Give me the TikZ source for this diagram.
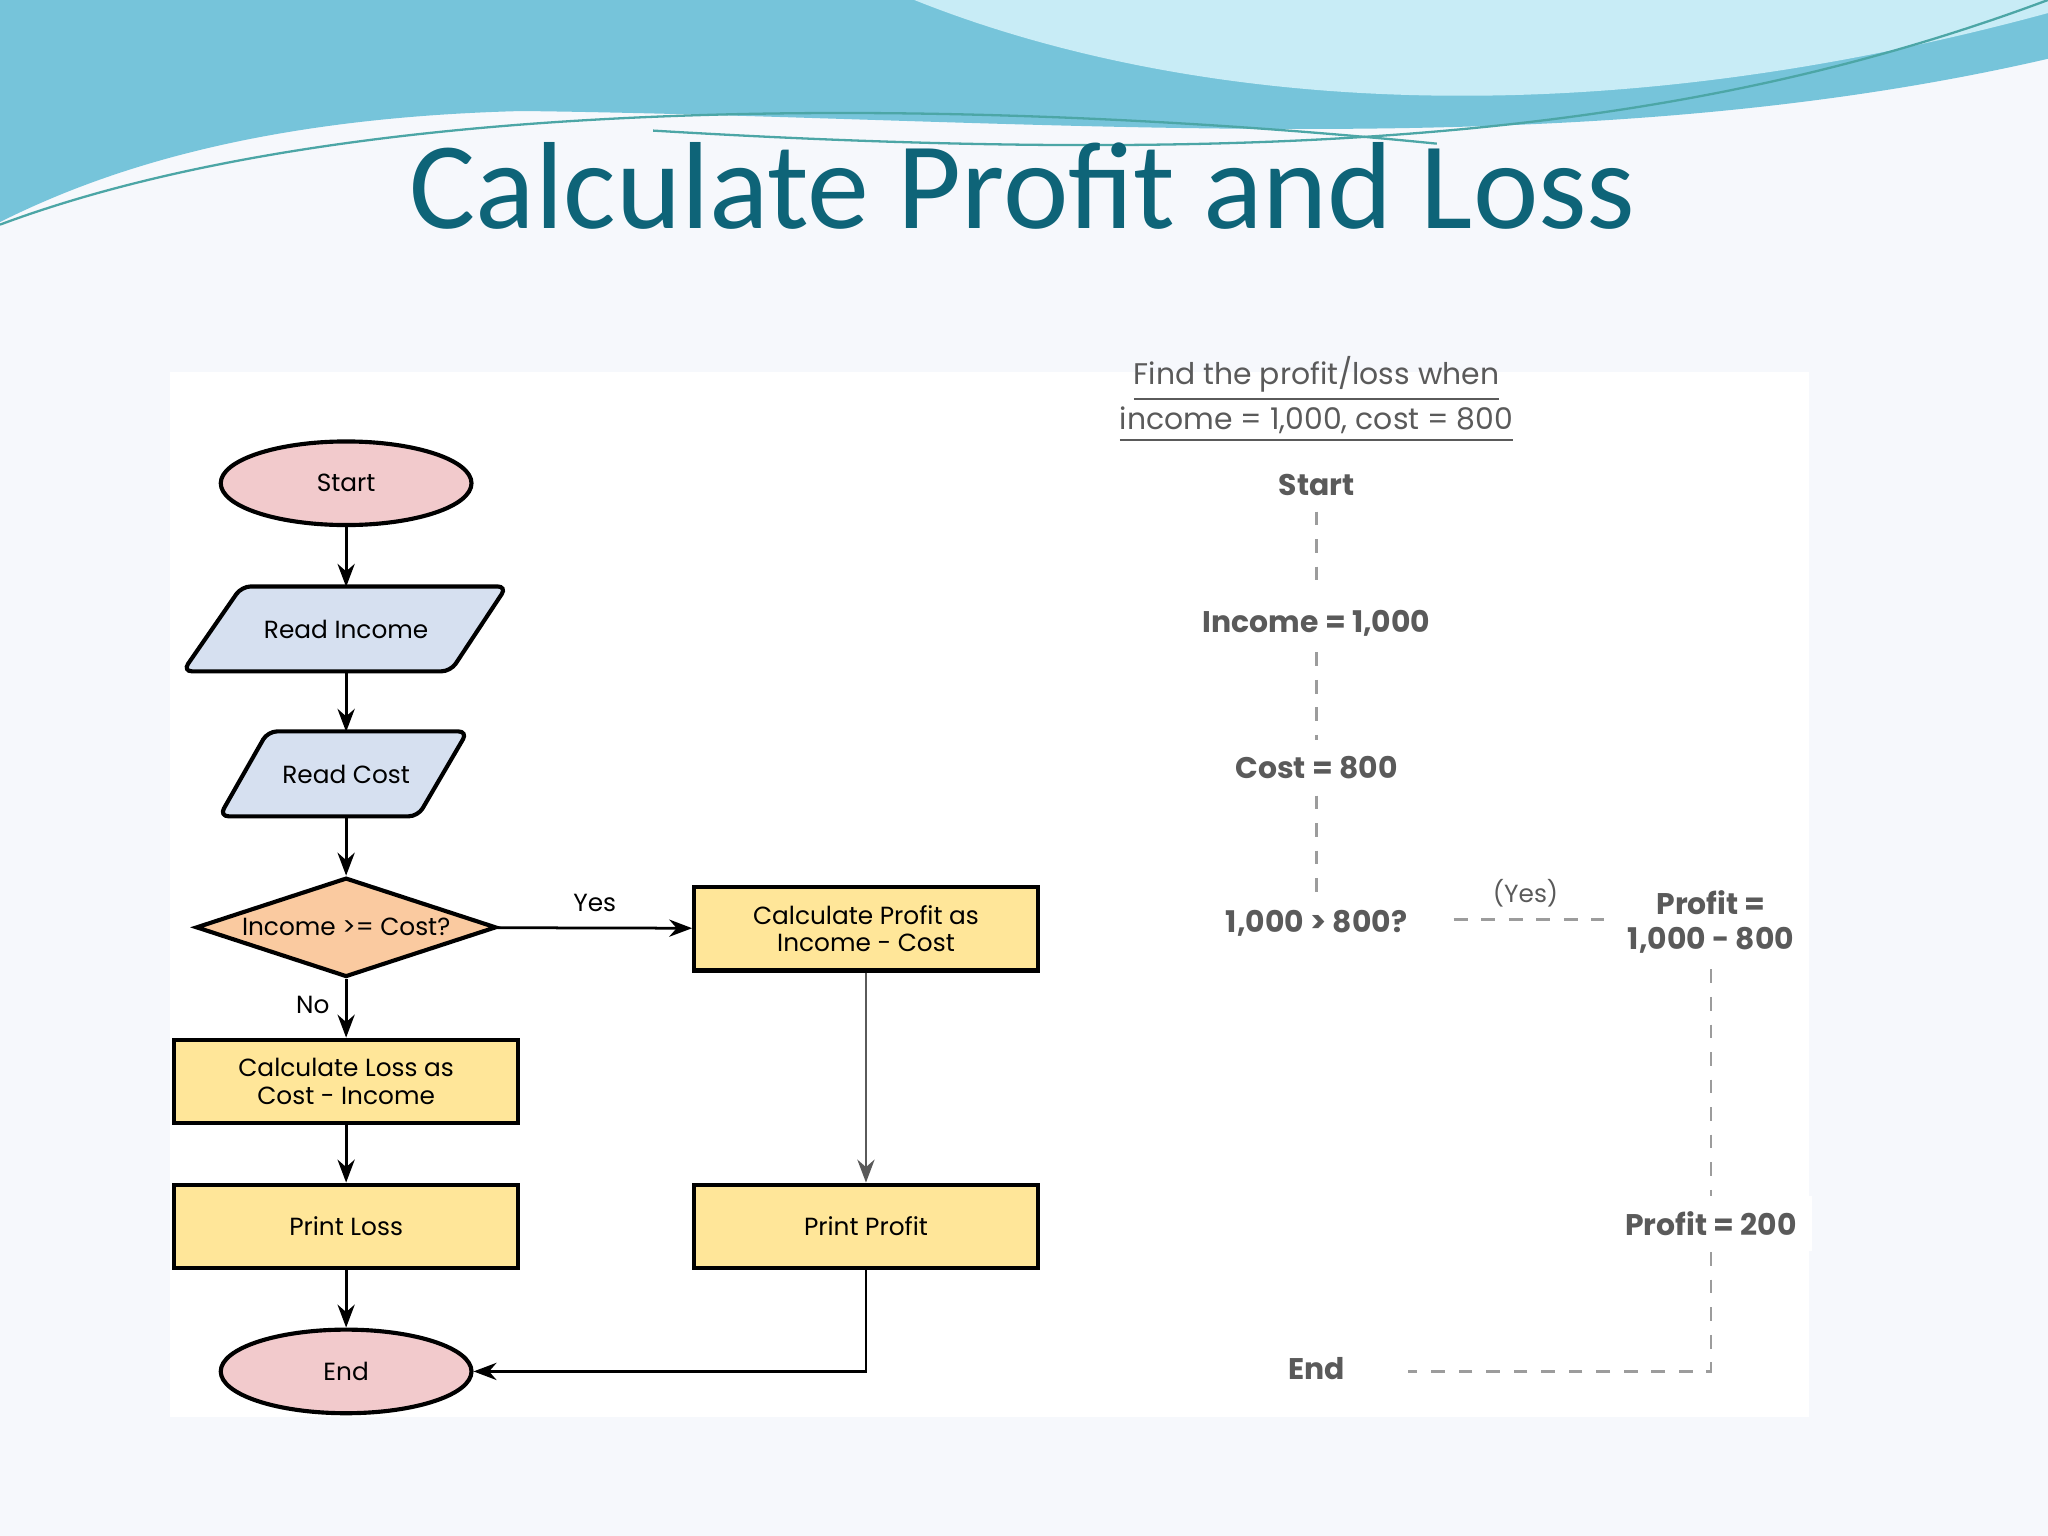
\documentclass[tikz,border=0pt]{standalone}
\usepackage{fontspec}
\setmainfont{Carlito}
\newfontfamily\diag{Poppins}
\usetikzlibrary{shapes.geometric,arrows.meta}
\definecolor{teal1}{RGB}{14,100,120}
\definecolor{pk}{RGB}{242,202,204}
\definecolor{lb}{RGB}{214,224,240}
\definecolor{org}{RGB}{250,202,160}
\definecolor{yel}{RGB}{255,230,153}
\definecolor{gr}{RGB}{90,90,90}
\definecolor{wv1}{RGB}{118,196,218}
\definecolor{wv2}{RGB}{200,236,246}
\definecolor{bg}{RGB}{246,248,252}
\begin{document}
\begin{tikzpicture}[x=1cm,y=-1cm,
  every node/.style={font=\diag\fontsize{5.4}{6}\selectfont},
  bx/.style={draw=black,line width=0.9pt,fill=yel,minimum width=2.63cm,minimum height=0.64cm,align=center,inner sep=0pt},
  el/.style={ellipse,draw=black,line width=0.9pt,fill=pk,minimum width=1.92cm,minimum height=0.64cm},
  io/.style={minimum height=0.64cm,inner sep=0pt},
  iof/.style={draw=black,line width=0.9pt,fill=lb,rounded corners=2pt},
  ar/.style={-{Stealth[length=5pt]},line width=0.6pt},
  rt/.style={text=gr,font=\diag\bfseries\fontsize{6.5}{7.5}\selectfont,align=center},
  dl/.style={gr!60,dashed,line width=0.5pt}]
\useasboundingbox (0,0) rectangle (15.68,11.76);
\fill[bg] (0,0) rectangle (15.68,11.76);
% top waves
\fill[wv1] (0,0) -- (15.68,0) -- (15.68,0.45) .. controls (12,1.3) and (8,0.9) .. (4,0.85) .. controls (2,0.9) and (0.8,1.3) .. (0,1.7) -- cycle;
\fill[wv2] (7,0) .. controls (9,0.8) and (12,1.1) .. (15.68,0.1) -- (15.68,0) -- cycle;
\draw[teal!70,line width=0.5pt] (0,1.72) .. controls (3,0.6) and (8,0.8) .. (11,1.1);
\draw[teal!70,line width=0.5pt] (5,1.0) .. controls (10,1.3) and (13,1.0) .. (15.68,0.0);
\fill[white] (1.3,2.85) rectangle (13.85,10.85);
\node[text=teal1,font=\fontsize{27}{30}\selectfont] (title) at (7.83,1.42) {Calculate Profit and Loss};
% left flowchart
\node[el] (start) at (2.65,3.70) {Start};
\draw[iof] (1.85,4.49) -- (3.88,4.49) -- (3.45,5.14) -- (1.40,5.14) -- cycle;
\node[io,minimum width=1.6cm] (ri) at (2.65,4.82) {Read Income};
\draw[iof] (2.05,5.60) -- (3.58,5.60) -- (3.20,6.25) -- (1.68,6.25) -- cycle;
\node[io,minimum width=1.2cm] (rc) at (2.65,5.93) {Read Cost};
\node[diamond,aspect=3,draw=black,line width=0.9pt,fill=org,minimum width=2.3cm,minimum height=0.76cm,inner sep=0pt] (dec) at (2.65,7.10) {Income >= Cost?};
\node[bx] (cp) at (6.63,7.11) {Calculate Profit as\\Income - Cost};
\node[bx] (cl) at (2.65,8.28) {Calculate Loss as\\Cost - Income};
\node[bx] (pl) at (2.65,9.39) {Print Loss};
\node[bx] (pp) at (6.63,9.39) {Print Profit};
\node[el] (end) at (2.65,10.50) {End};
\draw[ar] (start) -- (ri);
\draw[ar] (ri) -- (rc);
\draw[ar] (rc) -- (dec);
\draw[ar] (dec) -- node[above,pos=0.5] {Yes} (cp);
\draw[ar] (dec) -- node[left,pos=0.45] {No} (cl);
\draw[ar] (cl) -- (pl);
\draw[ar] (pl) -- (end);
\draw[ar,gr] (cp) -- (pp);
\draw[ar] (pp) |- (end);
% right trace
\node[text=gr,font=\diag\fontsize{6.5}{7.2}\selectfont,align=center,inner sep=0pt] (q) at (10.08,3.06) {\underline{Find the profit/loss when}\\\underline{income = 1,000, cost = 800}};
\node[rt] (s) at (10.08,3.71) {Start};
\node[rt] (inc) at (10.08,4.77) {Income = 1,000};
\node[rt] (co) at (10.08,5.88) {Cost = 800};
\node[rt] (cmp) at (10.08,7.07) {1,000 > 800?};
\node[rt] (pr) at (13.10,7.06) {Profit =\\1,000 - 800};
\node[text=gr] (yes) at (11.68,6.84) {(Yes)};
\node[rt,fill=white] (p2) at (13.10,9.37) {Profit = 200};
\node[rt] (e) at (10.08,10.48) {End};
\coordinate (c1) at (13.10,10.50);
\draw[dl] (s) -- (inc) -- (co) -- (cmp);
\draw[dl] (11.13,7.04) -- (12.28,7.04);
\draw[dl] (pr) -- (p2) -- (c1) -- (10.78,10.50);
\end{tikzpicture}
\end{document}
